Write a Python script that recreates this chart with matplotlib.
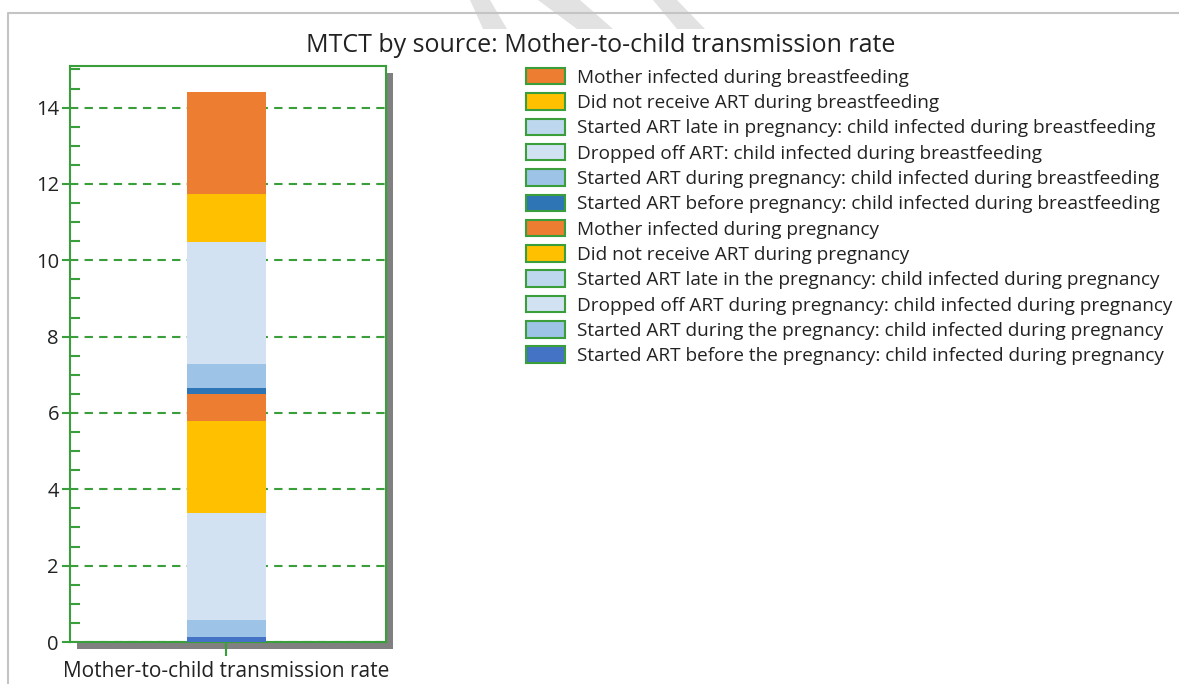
import matplotlib
matplotlib.use("Agg")
import matplotlib.pyplot as plt
from matplotlib.patches import Rectangle, Polygon
from matplotlib.ticker import MultipleLocator

plt.rcParams['font.family'] = ['Open Sans', 'DejaVu Sans']

# ---- data (stacking order, bottom to top) ----
category = ["Mother-to-child transmission rate"]
series_labels = [
    "Started ART before the pregnancy: child infected during pregnancy",
    "Started ART during the pregnancy: child infected during pregnancy",
    "Dropped off ART during pregnancy: child infected during pregnancy",
    "Started ART late in the pregnancy: child infected during pregnancy",
    "Did not receive ART during pregnancy",
    "Mother infected during pregnancy",
    "Started ART before pregnancy: child infected during breastfeeding",
    "Started ART during pregnancy: child infected during breastfeeding",
    "Dropped off ART: child infected during breastfeeding",
    "Started ART late in pregnancy: child infected during breastfeeding",
    "Did not receive ART during breastfeeding",
    "Mother infected during breastfeeding",
]
series_values = [0.14, 0.44, 2.79, 0.0, 2.42, 0.70, 0.17, 0.63, 3.19, 0.0, 1.26, 2.66]
series_colors = ["#4472C4", "#9DC3E6", "#D2E2F3", "#BDD7EE", "#FFC000", "#ED7D31",
                 "#2E75B6", "#9DC3E6", "#D2E2F3", "#BDD7EE", "#FFC000", "#ED7D31"]
title = "MTCT by source: Mother-to-child transmission rate"

GREEN = "#3A9E3A"
TXT = "#222222"
W, H = 1179, 684
fig = plt.figure(figsize=(W / 100, H / 100), dpi=100)

# outer border
fig.add_artist(plt.Line2D([8 / W, 8 / W, 1.0], [0, 1 - 13 / H, 1 - 13 / H],
                          transform=fig.transFigure, color="#C4C4C4", lw=1.5))
# faint watermark stripes
for pts in [[(470, 0), (490, 0), (507, 29), (483, 29)],
            [(538, 0), (580, 0), (613, 29), (577, 29)],
            [(653, 0), (677, 0), (705, 29), (677, 29)]]:
    fig.add_artist(Polygon([(x / W, 1 - y / H) for x, y in pts], closed=True,
                           transform=fig.transFigure, facecolor="#E2E2E2",
                           edgecolor="none", zorder=-2))

ax_l, ax_r, ax_t, ax_b = 70, 386, 66, 642
ax = fig.add_axes([ax_l / W, 1 - ax_b / H, (ax_r - ax_l) / W, (ax_b - ax_t) / H])
ax.set_zorder(1)

# shadow
fig.add_artist(Rectangle(((ax_l + 7) / W, 1 - (ax_b + 7) / H), (ax_r - ax_l) / W,
                         (ax_b - ax_t) / H, transform=fig.transFigure,
                         facecolor="#808080", edgecolor="none", zorder=-1))

bottom = 0.0
handles = []
for lab, val, col in zip(series_labels, series_values, series_colors):
    b = ax.bar(0, val, width=0.25, bottom=bottom, color=col, label=lab,
               edgecolor="none", zorder=3)
    handles.append(b)
    bottom += val

ax.set_xlim(-0.4946, 0.5054)
ax.set_ylim(0, 15.09)
ax.set_xticks([0])
ax.set_xticklabels(category, fontsize=15, color=TXT)
ax.yaxis.set_major_locator(MultipleLocator(2))
ax.yaxis.set_minor_locator(MultipleLocator(0.5))
ax.tick_params(axis='y', which='major', direction='out', length=6, width=1.5,
               color=GREEN, labelsize=14.5, labelcolor=TXT, pad=2)
ax.tick_params(axis='y', which='minor', direction='in', length=7.2, width=1.5,
               color=GREEN)
ax.tick_params(axis='x', which='major', direction='inout', length=19.5, width=1.5,
               color=GREEN, labelcolor=TXT, pad=4)
ax.yaxis.grid(True, which='major', color=GREEN, linestyle=(0, (4, 3)), linewidth=1.5,
              zorder=1)
ax.set_axisbelow(True)
for s in ax.spines.values():
    s.set_color(GREEN)
    s.set_linewidth(1.5)

fig.text(601 / W, 1 - 45 / H, title, ha='center', va='center', fontsize=18, color=TXT)

leg = ax.legend(handles[::-1], series_labels[::-1], loc='upper left',
                bbox_to_anchor=(526 / W, 1 - 68 / H), bbox_transform=fig.transFigure,
                frameon=False, fontsize=13.7, handlelength=2.05, handleheight=0.95,
                handletextpad=0.63, labelspacing=0.345, borderaxespad=0, borderpad=0)
for p in leg.get_patches():
    p.set_edgecolor(GREEN)
    p.set_linewidth(1.5)
for t in leg.get_texts():
    t.set_color(TXT)

fig.savefig("out.png", dpi=100)
